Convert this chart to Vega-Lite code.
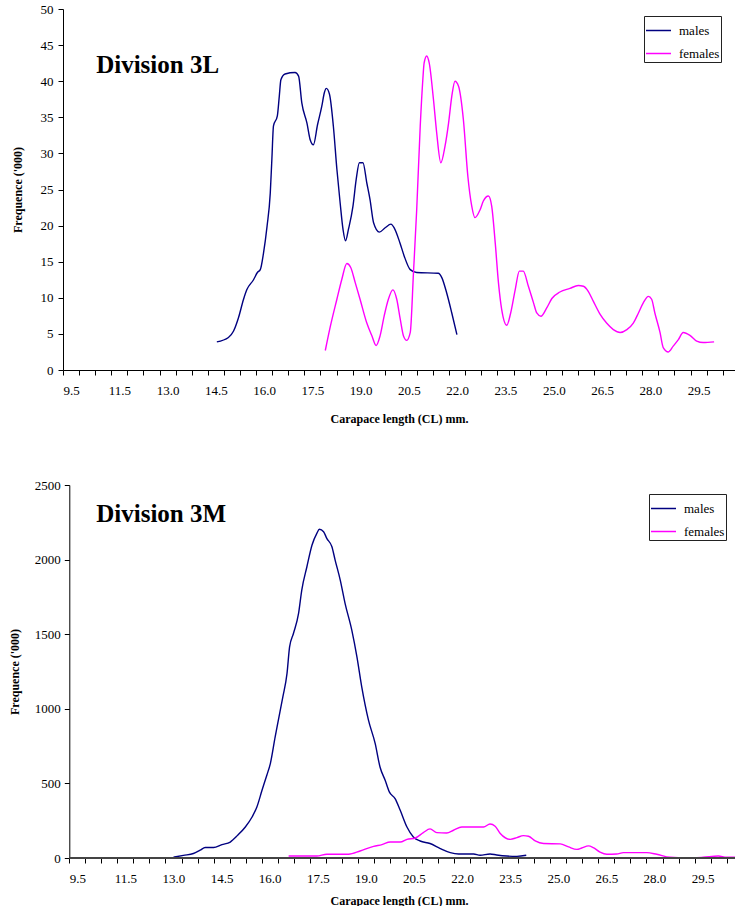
{
  "$schema": "https://vega.github.io/schema/vega-lite/v6.json",
  "padding": {"top": 3, "left": 8, "right": 0, "bottom": 0},
  "spacing": 55,
  "columns": 1,
  "align": "none",
  "config": {
    "view": {"stroke": null},
    "font": "Liberation Serif",
    "axis": {
      "grid": false,
      "domainColor": "#000000",
      "tickColor": "#000000",
      "labelColor": "#000000",
      "titleColor": "#000000",
      "labelFont": "Liberation Serif",
      "labelFontSize": 13,
      "titleFont": "Liberation Serif",
      "titleFontWeight": "bold",
      "titleFontSize": 12,
      "tickSize": 5,
      "labelOverlap": false
    }
  },
  "datasets": {
    "div3L": [
      {"sex": "males", "cl": 14.53, "freq": 3.9},
      {"sex": "males", "cl": 14.89, "freq": 4.5},
      {"sex": "males", "cl": 15.05, "freq": 5.4},
      {"sex": "males", "cl": 15.2, "freq": 7.2},
      {"sex": "males", "cl": 15.36, "freq": 9.8},
      {"sex": "males", "cl": 15.46, "freq": 11.1},
      {"sex": "males", "cl": 15.67, "freq": 12.5},
      {"sex": "males", "cl": 15.79, "freq": 13.5},
      {"sex": "males", "cl": 15.88, "freq": 13.9},
      {"sex": "males", "cl": 15.98, "freq": 16.2},
      {"sex": "males", "cl": 16.09, "freq": 19.9},
      {"sex": "males", "cl": 16.19, "freq": 24.5},
      {"sex": "males", "cl": 16.24, "freq": 29.2},
      {"sex": "males", "cl": 16.29, "freq": 33.8},
      {"sex": "males", "cl": 16.41, "freq": 35.2},
      {"sex": "males", "cl": 16.47, "freq": 37.9},
      {"sex": "males", "cl": 16.52, "freq": 40.2},
      {"sex": "males", "cl": 16.65, "freq": 41.0},
      {"sex": "males", "cl": 16.96, "freq": 41.2},
      {"sex": "males", "cl": 17.07, "freq": 40.7},
      {"sex": "males", "cl": 17.17, "freq": 37.0},
      {"sex": "males", "cl": 17.33, "freq": 34.2},
      {"sex": "males", "cl": 17.43, "freq": 31.9},
      {"sex": "males", "cl": 17.53, "freq": 31.2},
      {"sex": "males", "cl": 17.66, "freq": 34.0},
      {"sex": "males", "cl": 17.79, "freq": 36.5},
      {"sex": "males", "cl": 17.87, "freq": 38.4},
      {"sex": "males", "cl": 17.93, "freq": 39.0},
      {"sex": "males", "cl": 18.03, "freq": 38.2},
      {"sex": "males", "cl": 18.15, "freq": 33.8},
      {"sex": "males", "cl": 18.26, "freq": 27.8},
      {"sex": "males", "cl": 18.36, "freq": 23.2},
      {"sex": "males", "cl": 18.45, "freq": 19.5},
      {"sex": "males", "cl": 18.53, "freq": 17.9},
      {"sex": "males", "cl": 18.62, "freq": 19.5},
      {"sex": "males", "cl": 18.76, "freq": 22.7},
      {"sex": "males", "cl": 18.86, "freq": 26.4},
      {"sex": "males", "cl": 18.96, "freq": 28.7},
      {"sex": "males", "cl": 19.07, "freq": 28.7},
      {"sex": "males", "cl": 19.19, "freq": 25.9},
      {"sex": "males", "cl": 19.29, "freq": 23.6},
      {"sex": "males", "cl": 19.4, "freq": 20.4},
      {"sex": "males", "cl": 19.58, "freq": 19.1},
      {"sex": "males", "cl": 19.76, "freq": 19.7},
      {"sex": "males", "cl": 19.94, "freq": 20.2},
      {"sex": "males", "cl": 20.04, "freq": 19.7},
      {"sex": "males", "cl": 20.22, "freq": 17.6},
      {"sex": "males", "cl": 20.35, "freq": 15.8},
      {"sex": "males", "cl": 20.54, "freq": 13.9},
      {"sex": "males", "cl": 20.74, "freq": 13.5},
      {"sex": "males", "cl": 21.41, "freq": 13.4},
      {"sex": "males", "cl": 21.52, "freq": 12.8},
      {"sex": "males", "cl": 21.67, "freq": 10.7},
      {"sex": "males", "cl": 21.83, "freq": 7.9},
      {"sex": "males", "cl": 21.99, "freq": 4.9},
      {"sex": "females", "cl": 17.9, "freq": 2.7},
      {"sex": "females", "cl": 18.06, "freq": 6.1},
      {"sex": "females", "cl": 18.26, "freq": 9.8},
      {"sex": "females", "cl": 18.41, "freq": 12.5},
      {"sex": "females", "cl": 18.57, "freq": 14.75},
      {"sex": "females", "cl": 18.69, "freq": 14.2},
      {"sex": "females", "cl": 18.83, "freq": 12.1},
      {"sex": "females", "cl": 18.98, "freq": 9.8},
      {"sex": "females", "cl": 19.19, "freq": 6.5},
      {"sex": "females", "cl": 19.35, "freq": 4.7},
      {"sex": "females", "cl": 19.48, "freq": 3.4},
      {"sex": "females", "cl": 19.6, "freq": 4.7},
      {"sex": "females", "cl": 19.73, "freq": 7.5},
      {"sex": "females", "cl": 19.86, "freq": 9.8},
      {"sex": "females", "cl": 20.0, "freq": 11.1},
      {"sex": "females", "cl": 20.12, "freq": 9.8},
      {"sex": "females", "cl": 20.23, "freq": 7.0},
      {"sex": "females", "cl": 20.33, "freq": 4.7},
      {"sex": "females", "cl": 20.43, "freq": 4.1},
      {"sex": "females", "cl": 20.54, "freq": 5.2},
      {"sex": "females", "cl": 20.64, "freq": 13.5},
      {"sex": "females", "cl": 20.74, "freq": 22.2},
      {"sex": "females", "cl": 20.85, "freq": 33.8},
      {"sex": "females", "cl": 20.93, "freq": 40.2},
      {"sex": "females", "cl": 20.97, "freq": 42.5},
      {"sex": "females", "cl": 21.05, "freq": 43.5},
      {"sex": "females", "cl": 21.13, "freq": 42.5},
      {"sex": "females", "cl": 21.26, "freq": 37.5},
      {"sex": "females", "cl": 21.36, "freq": 32.9},
      {"sex": "females", "cl": 21.49, "freq": 28.7},
      {"sex": "females", "cl": 21.62, "freq": 31.0},
      {"sex": "females", "cl": 21.73, "freq": 34.2},
      {"sex": "females", "cl": 21.83, "freq": 37.9},
      {"sex": "females", "cl": 21.93, "freq": 40.0},
      {"sex": "females", "cl": 22.04, "freq": 39.3},
      {"sex": "females", "cl": 22.19, "freq": 34.7},
      {"sex": "females", "cl": 22.33, "freq": 26.8},
      {"sex": "females", "cl": 22.45, "freq": 22.7},
      {"sex": "females", "cl": 22.55, "freq": 21.1},
      {"sex": "females", "cl": 22.71, "freq": 22.2},
      {"sex": "females", "cl": 22.81, "freq": 23.4},
      {"sex": "females", "cl": 22.97, "freq": 24.1},
      {"sex": "females", "cl": 23.07, "freq": 22.7},
      {"sex": "females", "cl": 23.18, "freq": 17.6},
      {"sex": "females", "cl": 23.28, "freq": 12.1},
      {"sex": "females", "cl": 23.38, "freq": 8.4},
      {"sex": "females", "cl": 23.54, "freq": 6.2},
      {"sex": "females", "cl": 23.66, "freq": 7.9},
      {"sex": "females", "cl": 23.8, "freq": 11.1},
      {"sex": "females", "cl": 23.93, "freq": 13.7},
      {"sex": "females", "cl": 24.05, "freq": 13.7},
      {"sex": "females", "cl": 24.21, "freq": 11.6},
      {"sex": "females", "cl": 24.37, "freq": 9.3},
      {"sex": "females", "cl": 24.47, "freq": 7.9},
      {"sex": "females", "cl": 24.6, "freq": 7.45},
      {"sex": "females", "cl": 24.78, "freq": 8.6},
      {"sex": "females", "cl": 24.94, "freq": 9.9},
      {"sex": "females", "cl": 25.19, "freq": 10.8},
      {"sex": "females", "cl": 25.5, "freq": 11.3},
      {"sex": "females", "cl": 25.76, "freq": 11.7},
      {"sex": "females", "cl": 25.92, "freq": 11.6},
      {"sex": "females", "cl": 26.07, "freq": 10.9},
      {"sex": "females", "cl": 26.23, "freq": 9.5},
      {"sex": "females", "cl": 26.44, "freq": 7.7},
      {"sex": "females", "cl": 26.64, "freq": 6.5},
      {"sex": "females", "cl": 26.85, "freq": 5.6},
      {"sex": "females", "cl": 27.06, "freq": 5.2},
      {"sex": "females", "cl": 27.27, "freq": 5.6},
      {"sex": "females", "cl": 27.47, "freq": 6.5},
      {"sex": "females", "cl": 27.63, "freq": 7.9},
      {"sex": "females", "cl": 27.78, "freq": 9.3},
      {"sex": "females", "cl": 27.94, "freq": 10.2},
      {"sex": "females", "cl": 28.04, "freq": 9.8},
      {"sex": "females", "cl": 28.14, "freq": 7.9},
      {"sex": "females", "cl": 28.3, "freq": 5.2},
      {"sex": "females", "cl": 28.4, "freq": 3.1},
      {"sex": "females", "cl": 28.56, "freq": 2.5},
      {"sex": "females", "cl": 28.71, "freq": 3.3},
      {"sex": "females", "cl": 28.87, "freq": 4.2},
      {"sex": "females", "cl": 29.02, "freq": 5.2},
      {"sex": "females", "cl": 29.23, "freq": 4.8},
      {"sex": "females", "cl": 29.44, "freq": 4.0},
      {"sex": "females", "cl": 29.64, "freq": 3.8},
      {"sex": "females", "cl": 29.98, "freq": 3.9}
    ],
    "div3M": [
      {"sex": "males", "cl": 13.0, "freq": 5},
      {"sex": "males", "cl": 13.31, "freq": 18},
      {"sex": "males", "cl": 13.62, "freq": 30},
      {"sex": "males", "cl": 13.83, "freq": 52},
      {"sex": "males", "cl": 13.99, "freq": 70},
      {"sex": "males", "cl": 14.25, "freq": 70},
      {"sex": "males", "cl": 14.51, "freq": 90},
      {"sex": "males", "cl": 14.77, "freq": 107},
      {"sex": "males", "cl": 15.0, "freq": 152},
      {"sex": "males", "cl": 15.24, "freq": 208},
      {"sex": "males", "cl": 15.45, "freq": 275},
      {"sex": "males", "cl": 15.6, "freq": 342},
      {"sex": "males", "cl": 15.76, "freq": 454},
      {"sex": "males", "cl": 15.91, "freq": 555},
      {"sex": "males", "cl": 16.02, "freq": 633},
      {"sex": "males", "cl": 16.17, "freq": 812},
      {"sex": "males", "cl": 16.27, "freq": 924},
      {"sex": "males", "cl": 16.41, "freq": 1080},
      {"sex": "males", "cl": 16.54, "freq": 1237},
      {"sex": "males", "cl": 16.62, "freq": 1415},
      {"sex": "males", "cl": 16.74, "freq": 1505},
      {"sex": "males", "cl": 16.9, "freq": 1639},
      {"sex": "males", "cl": 17.0, "freq": 1796},
      {"sex": "males", "cl": 17.16, "freq": 1952},
      {"sex": "males", "cl": 17.32, "freq": 2098},
      {"sex": "males", "cl": 17.47, "freq": 2176},
      {"sex": "males", "cl": 17.55, "freq": 2203},
      {"sex": "males", "cl": 17.68, "freq": 2187},
      {"sex": "males", "cl": 17.78, "freq": 2142},
      {"sex": "males", "cl": 17.94, "freq": 2086},
      {"sex": "males", "cl": 18.04, "freq": 1997},
      {"sex": "males", "cl": 18.2, "freq": 1863},
      {"sex": "males", "cl": 18.35, "freq": 1707},
      {"sex": "males", "cl": 18.56, "freq": 1527},
      {"sex": "males", "cl": 18.72, "freq": 1348},
      {"sex": "males", "cl": 18.87, "freq": 1147},
      {"sex": "males", "cl": 19.08, "freq": 924},
      {"sex": "males", "cl": 19.29, "freq": 767},
      {"sex": "males", "cl": 19.44, "freq": 610},
      {"sex": "males", "cl": 19.6, "freq": 521},
      {"sex": "males", "cl": 19.73, "freq": 443},
      {"sex": "males", "cl": 19.91, "freq": 398},
      {"sex": "males", "cl": 20.07, "freq": 320},
      {"sex": "males", "cl": 20.28, "freq": 208},
      {"sex": "males", "cl": 20.48, "freq": 141},
      {"sex": "males", "cl": 20.69, "freq": 114},
      {"sex": "males", "cl": 21.0, "freq": 97},
      {"sex": "males", "cl": 21.32, "freq": 63},
      {"sex": "males", "cl": 21.63, "freq": 36},
      {"sex": "males", "cl": 21.89, "freq": 27},
      {"sex": "males", "cl": 22.36, "freq": 27},
      {"sex": "males", "cl": 22.56, "freq": 18},
      {"sex": "males", "cl": 22.87, "freq": 27},
      {"sex": "males", "cl": 23.08, "freq": 20},
      {"sex": "males", "cl": 23.39, "freq": 13},
      {"sex": "males", "cl": 23.71, "freq": 11},
      {"sex": "males", "cl": 24.0, "freq": 18},
      {"sex": "females", "cl": 16.59, "freq": 13},
      {"sex": "females", "cl": 17.47, "freq": 13},
      {"sex": "females", "cl": 17.78, "freq": 25},
      {"sex": "females", "cl": 18.46, "freq": 25},
      {"sex": "females", "cl": 18.82, "freq": 47},
      {"sex": "females", "cl": 19.24, "freq": 78},
      {"sex": "females", "cl": 19.5, "freq": 90},
      {"sex": "females", "cl": 19.76, "freq": 107},
      {"sex": "females", "cl": 20.07, "freq": 107},
      {"sex": "females", "cl": 20.28, "freq": 125},
      {"sex": "females", "cl": 20.54, "freq": 134},
      {"sex": "females", "cl": 20.79, "freq": 170},
      {"sex": "females", "cl": 21.0, "freq": 195},
      {"sex": "females", "cl": 21.21, "freq": 170},
      {"sex": "females", "cl": 21.52, "freq": 168},
      {"sex": "females", "cl": 21.73, "freq": 186},
      {"sex": "females", "cl": 21.99, "freq": 208},
      {"sex": "females", "cl": 22.67, "freq": 208},
      {"sex": "females", "cl": 22.87, "freq": 228},
      {"sex": "females", "cl": 23.03, "freq": 213},
      {"sex": "females", "cl": 23.19, "freq": 164},
      {"sex": "females", "cl": 23.5, "freq": 125},
      {"sex": "females", "cl": 23.71, "freq": 137},
      {"sex": "females", "cl": 23.91, "freq": 150},
      {"sex": "females", "cl": 24.07, "freq": 146},
      {"sex": "females", "cl": 24.28, "freq": 114},
      {"sex": "females", "cl": 24.54, "freq": 97},
      {"sex": "females", "cl": 25.06, "freq": 95},
      {"sex": "females", "cl": 25.32, "freq": 74},
      {"sex": "females", "cl": 25.58, "freq": 58},
      {"sex": "females", "cl": 25.73, "freq": 67},
      {"sex": "females", "cl": 25.94, "freq": 81},
      {"sex": "females", "cl": 26.09, "freq": 70},
      {"sex": "females", "cl": 26.3, "freq": 40},
      {"sex": "females", "cl": 26.51, "freq": 25},
      {"sex": "females", "cl": 26.82, "freq": 27},
      {"sex": "females", "cl": 27.03, "freq": 36},
      {"sex": "females", "cl": 27.76, "freq": 36},
      {"sex": "females", "cl": 28.07, "freq": 25},
      {"sex": "females", "cl": 28.48, "freq": 5},
      {"sex": "females", "cl": 29.0, "freq": 0},
      {"sex": "females", "cl": 29.52, "freq": 5},
      {"sex": "females", "cl": 29.99, "freq": 13},
      {"sex": "females", "cl": 30.25, "freq": 5},
      {"sex": "females", "cl": 30.51, "freq": 5}
    ]
  },
  "concat": [
    {
      "width": 672,
      "height": 361,
      "layer": [
        {
          "data": {"name": "div3L"},
          "mark": {"type": "line", "strokeWidth": 1.4, "interpolate": "monotone"},
          "encoding": {
            "x": {
              "field": "cl", "type": "quantitative",
              "scale": {"domain": [9.75, 30.63], "nice": false, "zero": false},
              "axis": {
                "title": "Carapace length (CL) mm.",
                "values": [9.75,10.25,10.75,11.25,11.75,12.25,12.75,13.25,13.75,14.25,14.75,15.25,15.75,16.25,16.75,17.25,17.75,18.25,18.75,19.25,19.75,20.25,20.75,21.25,21.75,22.25,22.75,23.25,23.75,24.25,24.75,25.25,25.75,26.25,26.75,27.25,27.75,28.25,28.75,29.25,29.75,30.25],
                "tickCount": 100,
                "labelExpr": "(round((datum.value-9.75)*2) % 3 == 0) ? (datum.value < 10 ? '9.5' : format(datum.value+0.25, '.1f')) : ''",
                "labelOffset": 8,
                "labelOverlap": false,
                "labelFlush": false,
                "labelBound": false,
                "labelPadding": 9,
                "titlePadding": 16
              }
            },
            "y": {
              "field": "freq", "type": "quantitative",
              "scale": {"domain": [0, 50], "nice": false},
              "axis": {
                "title": "Frequence ('000)",
                "values": [0,5,10,15,20,25,30,35,40,45,50],
                "tickCount": 50,
                "labelOverlap": false,
                "labelPadding": 5,
                "titlePadding": 16
              }
            },
            "color": {
              "field": "sex", "type": "nominal",
              "scale": {"domain": ["males", "females"], "range": ["#000080", "#FF00FF"]},
              "legend": {
                "title": null,
                "orient": "none",
                "legendX": 581,
                "legendY": 7,
                "strokeColor": "#222222",
                "fillColor": "#FFFFFF",
                "padding": 1,
                "symbolType": "stroke",
                "symbolSize": 625,
                "symbolStrokeWidth": 1.5,
                "labelFont": "Liberation Serif",
                "labelFontSize": 13,
                "labelColor": "#000000",
                "rowPadding": 2,
                "labelOffset": 7
              }
            }
          }
        },
        {
          "data": {"values": [{"label": "Division 3L"}]},
          "mark": {"type": "text", "align": "left", "baseline": "alphabetic", "font": "Liberation Serif", "fontSize": 25, "fontWeight": "bold", "color": "#000000"},
          "encoding": {
            "x": {"datum": 10.78},
            "y": {"datum": 41.2},
            "text": {"field": "label"}
          }
        }
      ]
    },
    {
      "width": 672,
      "height": 373,
      "layer": [
        {
          "data": {"name": "div3M"},
          "mark": {"type": "line", "strokeWidth": 1.4, "interpolate": "monotone"},
          "encoding": {
            "x": {
              "field": "cl", "type": "quantitative",
              "scale": {"domain": [9.554, 30.51], "nice": false, "zero": false},
              "axis": {
                "title": "Carapace length (CL) mm.",
                "values": [9.75,10.25,10.75,11.25,11.75,12.25,12.75,13.25,13.75,14.25,14.75,15.25,15.75,16.25,16.75,17.25,17.75,18.25,18.75,19.25,19.75,20.25,20.75,21.25,21.75,22.25,22.75,23.25,23.75,24.25,24.75,25.25,25.75,26.25,26.75,27.25,27.75,28.25,28.75,29.25,29.75,30.25],
                "tickCount": 100,
                "labelExpr": "(round((datum.value-9.75)*2) % 3 == 0) ? (datum.value < 10 ? '9.5' : format(datum.value+0.25, '.1f')) : ''",
                "labelOffset": 8,
                "labelOverlap": false,
                "labelFlush": false,
                "labelBound": false,
                "labelPadding": 9,
                "titlePadding": 10,
                "domain": false
              }
            },
            "y": {
              "field": "freq", "type": "quantitative",
              "scale": {"domain": [0, 2500], "nice": false},
              "axis": {
                "title": "Frequence ('000)",
                "values": [0,500,1000,1500,2000,2500],
                "tickCount": 50,
                "format": "d",
                "offset": -6.3,
                "labelOverlap": false,
                "labelPadding": 4,
                "titlePadding": 13
              }
            },
            "color": {
              "field": "sex", "type": "nominal",
              "scale": {"domain": ["males", "females"], "range": ["#000080", "#FF00FF"]},
              "legend": {
                "title": null,
                "orient": "none",
                "legendX": 586,
                "legendY": 9,
                "strokeColor": "#222222",
                "fillColor": "#FFFFFF",
                "padding": 1,
                "symbolType": "stroke",
                "symbolSize": 625,
                "symbolStrokeWidth": 1.5,
                "labelFont": "Liberation Serif",
                "labelFontSize": 13,
                "labelColor": "#000000",
                "rowPadding": 2,
                "labelOffset": 7
              }
            }
          }
        },
        {
          "mark": {"type": "rule", "color": "#444444", "strokeWidth": 2},
          "encoding": {
            "x": {"datum": 9.75},
            "x2": {"datum": 30.51},
            "y": {"datum": 0}
          },
          "data": {"values": [{"axisline": "x"}]}
        },
        {
          "data": {"values": [{"label": "Division 3M"}]},
          "mark": {"type": "text", "align": "left", "baseline": "alphabetic", "font": "Liberation Serif", "fontSize": 25, "fontWeight": "bold", "color": "#000000"},
          "encoding": {
            "x": {"datum": 10.59},
            "y": {"datum": 2254},
            "text": {"field": "label"}
          }
        }
      ]
    }
  ],
  "resolve": {"scale": {"color": "independent"}, "legend": {"color": "independent"}}
}
